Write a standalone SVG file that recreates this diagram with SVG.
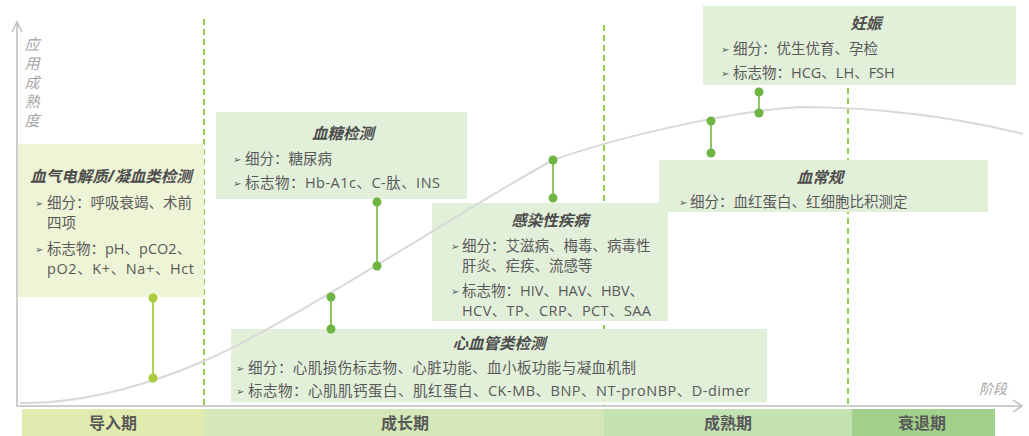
<svg xmlns="http://www.w3.org/2000/svg" width="1029" height="436" viewBox="0 0 1029 436">
<style>
text{font-family:"Open Sans","Noto Sans CJK SC",sans-serif;fill:#595959;dominant-baseline:central}
.box{fill:#e2efd9}
.title{font-size:15.5px;font-weight:bold;font-style:italic;text-anchor:middle;fill:#4d4d4d}
.t{font-size:14.5px}
.b{font-family:"DejaVu Sans",sans-serif;font-size:10px}
.stage{font-size:16px;font-weight:bold;text-anchor:middle}
.axis{stroke:#bfbfbf;stroke-width:1.5;fill:none}
.ax{font-size:15px;font-style:italic;fill:#a6a6a6}
.dash{stroke:#92d050;stroke-width:2;stroke-dasharray:6 4}
.lk{stroke:#8dc663;stroke-width:2}
.dot{fill:#6fb543}
.lk1{stroke:#b3d34e;stroke-width:2}
.dot1{fill:#a9cd3a}
</style>
<rect width="1029" height="436" fill="#ffffff"/>
<g id="stages">
<rect x="22" y="409" width="182" height="27" fill="#e2ebaf"/>
<rect x="204" y="409" width="400" height="27" fill="#d4e8b7"/>
<rect x="604" y="409" width="248" height="27" fill="#c5e2b3"/>
<rect x="852" y="409" width="143" height="27" fill="#a2d18b"/>
<text class="stage" x="113" y="423">导入期</text>
<text class="stage" x="405" y="423">成长期</text>
<text class="stage" x="728" y="423">成熟期</text>
<text class="stage" x="922" y="423">衰退期</text>
</g>
<g id="axes">
<path class="axis" d="M17,22 V406 H1021"/>
<path class="axis" d="M12,32 L17,22 L22,32"/>
<path class="axis" d="M1013,400 L1022,406 L1013,412"/>
<text class="ax" x="32" y="44" text-anchor="middle">应</text>
<text class="ax" x="32" y="63" text-anchor="middle">用</text>
<text class="ax" x="32" y="82" text-anchor="middle">成</text>
<text class="ax" x="32" y="101" text-anchor="middle">熟</text>
<text class="ax" x="32" y="120" text-anchor="middle">度</text>
<text class="ax" x="993" y="388" text-anchor="middle" style="font-size:14px">阶段</text>
</g>
<g id="dividers">
<line class="dash" x1="204" y1="19" x2="204" y2="406"/>
<line class="dash" x1="604" y1="25" x2="604" y2="406"/>
<line class="dash" x1="848" y1="88" x2="848" y2="406"/>
</g>
<g id="node-blood-gas">
<rect x="18" y="144" width="186" height="153" fill="#eef4d6"/>
<text class="title" x="111" y="176">血气电解质/凝血类检测</text>
<text class="b" x="35" y="203">➢</text>
<text class="t" x="47" y="202">细分：呼吸衰竭、术前</text>
<text class="t" x="47" y="222">四项</text>
<text class="b" x="35" y="249">➢</text>
<text class="t" x="47" y="248">标志物：pH、pCO2、</text>
<text class="t" x="47" y="268" textLength="147" lengthAdjust="spacing">pO2、K+、Na+、Hct</text>
</g>
<g id="node-glucose">
<rect class="box" x="216" y="112" width="251" height="87"/>
<text class="title" x="343" y="133">血糖检测</text>
<text class="b" x="233" y="159">➢</text>
<text class="t" x="245" y="158">细分：糖尿病</text>
<text class="b" x="233" y="183">➢</text>
<text class="t" x="245" y="182" textLength="195" lengthAdjust="spacing">标志物：Hb-A1c、C-肽、INS</text>
</g>
<g id="node-infection">
<rect class="box" x="432" y="203" width="236" height="118"/>
<text class="title" x="550" y="220">感染性疾病</text>
<text class="b" x="451" y="246">➢</text>
<text class="t" x="462" y="245">细分：艾滋病、梅毒、病毒性</text>
<text class="t" x="462" y="265">肝炎、疟疾、流感等</text>
<text class="b" x="451" y="291">➢</text>
<text class="t" x="462" y="290">标志物：HIV、HAV、HBV、</text>
<text class="t" x="462" y="310" textLength="189" lengthAdjust="spacing">HCV、TP、CRP、PCT、SAA</text>
</g>
<g id="node-cardio">
<rect class="box" x="231" y="329" width="536" height="73"/>
<text class="title" x="499" y="343">心血管类检测</text>
<text class="b" x="236" y="368">➢</text>
<text class="t" x="248" y="367" textLength="388" lengthAdjust="spacing">细分：心肌损伤标志物、心脏功能、血小板功能与凝血机制</text>
<text class="b" x="236" y="391">➢</text>
<text class="t" x="248" y="390" textLength="502" lengthAdjust="spacing">标志物：心肌肌钙蛋白、肌红蛋白、CK-MB、BNP、NT-proNBP、D-dimer</text>
</g>
<g id="node-blood-routine">
<rect class="box" x="659" y="160" width="329" height="52"/>
<text class="title" x="820" y="177">血常规</text>
<text class="b" x="679" y="202">➢</text>
<text class="t" x="690" y="201">细分：血红蛋白、红细胞比积测定</text>
</g>
<g id="node-pregnancy">
<rect class="box" x="703" y="6" width="313" height="79"/>
<text class="title" x="866" y="23">妊娠</text>
<text class="b" x="721" y="49">➢</text>
<text class="t" x="733" y="48">细分：优生优育、孕检</text>
<text class="b" x="721" y="73">➢</text>
<text class="t" x="733" y="72">标志物：HCG、LH、FSH</text>
</g>
<g id="curve">
<path d="M20,403 C90,404 160,380 204,361 C290,324 470,205 553,160 C610,140 720,112 800,107 C880,107 960,118 1023,134" fill="none" stroke="#d9d9d9" stroke-width="2"/>
</g>
<g id="connectors">
<line class="lk1" x1="153" y1="298" x2="153" y2="378"/>
<circle class="dot1" cx="153" cy="298" r="4.5"/>
<circle class="dot1" cx="153" cy="378" r="4.5"/>
<line class="lk" x1="377" y1="202" x2="377" y2="266"/>
<circle class="dot" cx="377" cy="202" r="4.5"/>
<circle class="dot" cx="377" cy="266" r="4.5"/>
<line class="lk" x1="331" y1="297" x2="331" y2="329"/>
<circle class="dot" cx="331" cy="297" r="4.5"/>
<circle class="dot" cx="331" cy="329" r="4.5"/>
<line class="lk" x1="553" y1="160" x2="553" y2="198"/>
<circle class="dot" cx="553" cy="160" r="4.5"/>
<circle class="dot" cx="553" cy="198" r="4.5"/>
<line class="lk" x1="711" y1="121" x2="711" y2="153"/>
<circle class="dot" cx="711" cy="121" r="4.5"/>
<circle class="dot" cx="711" cy="153" r="4.5"/>
<line class="lk" x1="759" y1="92" x2="759" y2="113"/>
<circle class="dot" cx="759" cy="92" r="4.5"/>
<circle class="dot" cx="759" cy="113" r="4.5"/>
</g>
</svg>
